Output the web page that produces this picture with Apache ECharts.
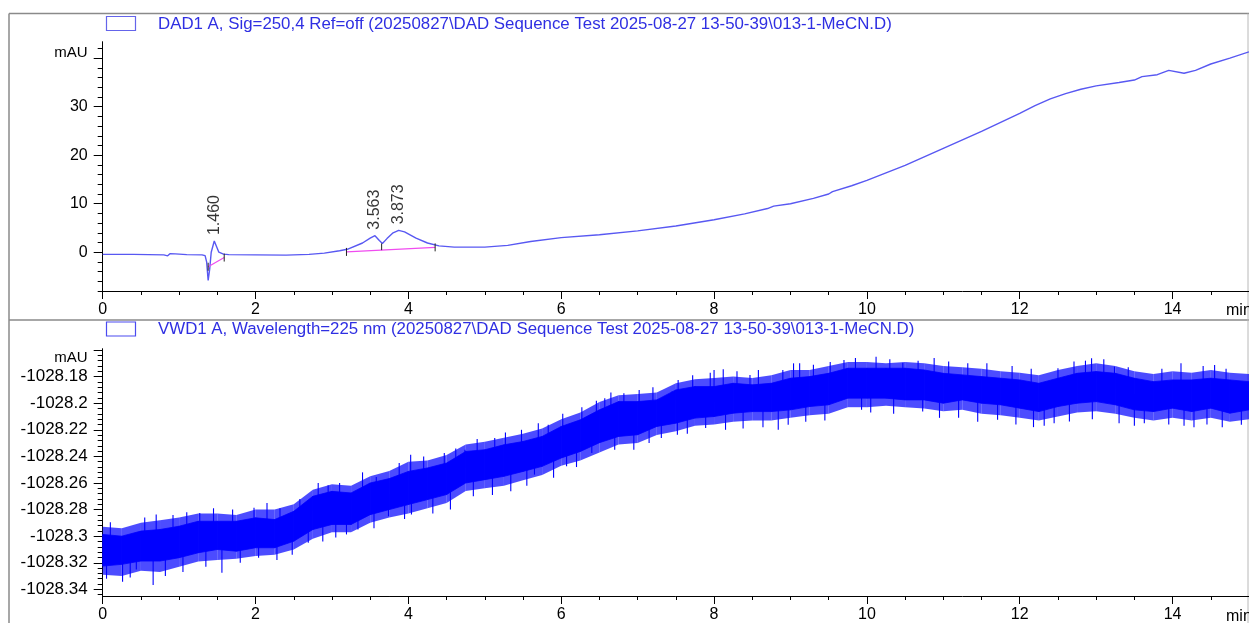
<!DOCTYPE html>
<html>
<head>
<meta charset="utf-8">
<script src="https://cdn.jsdelivr.net/npm/echarts@6/dist/echarts.min.js"></script>
<style>
  html, body { margin: 0; padding: 0; background: #ffffff; }
  #chart { width: 1249px; height: 623px; }
</style>
</head>
<body>
<div id="chart"></div>
<script>
// ---- Signal titles ----
const dadTitle = 'DAD1 A, Sig=250,4 Ref=off (20250827\\DAD Sequence Test 2025-08-27 13-50-39\\013-1-MeCN.D)';
const vwdTitle = 'VWD1 A, Wavelength=225 nm (20250827\\DAD Sequence Test 2025-08-27 13-50-39\\013-1-MeCN.D)';

// ---- Axis ticks ----
const timeTicks = [0, 2, 4, 6, 8, 10, 12, 14];
const dadTicks = [0, 10, 20, 30, 40];          // 40 carries the unit label
const vwdTicks = [-1028.34, -1028.32, -1028.3, -1028.28, -1028.26, -1028.24, -1028.22, -1028.2, -1028.18, -1028.16];
const unitLabel = 'mAU';
const timeUnit = 'min';

// ---- DAD1 A trace (min, mAU) ----
const dadTime = [0.00, 0.40, 0.80, 0.85, 0.88, 0.95, 1.10, 1.30, 1.34, 1.36, 1.38, 1.40, 1.42, 1.46, 1.48, 1.52, 1.58, 1.65,
  2.00, 2.40, 2.70, 2.90, 3.10, 3.20, 3.40, 3.50, 3.563, 3.62, 3.66, 3.72, 3.80, 3.873, 3.95, 4.10, 4.25, 4.40, 4.60,
  5.00, 5.30, 5.60, 6.00, 6.50, 7.00, 7.50, 8.00, 8.40, 8.70, 8.78, 9.00, 9.30, 9.50, 9.55, 9.80, 10.0, 10.5, 11.0,
  11.5, 12.0, 12.2, 12.4, 12.6, 12.8, 13.0, 13.3, 13.5, 13.6, 13.8, 13.95, 14.15, 14.3, 14.5, 14.75, 15.0];
const dadSignal = [-0.45, -0.45, -0.55, -0.75, -0.3, -0.35, -0.5, -0.55, -0.7, -2.0, -5.8, -3.5, 0.0, 2.3, 2.0, 0.0, -0.4, -0.5,
  -0.55, -0.6, -0.45, -0.2, 0.3, 0.6, 1.9, 2.9, 3.4, 2.4, 1.8, 2.8, 4.0, 4.5, 4.2, 2.9, 1.9, 1.3, 1.05,
  1.05, 1.4, 2.2, 3.0, 3.6, 4.4, 5.4, 6.7, 7.9, 9.0, 9.5, 10.0, 11.1, 12.0, 12.5, 13.7, 14.8, 17.9, 21.4,
  24.9, 28.6, 30.2, 31.6, 32.7, 33.6, 34.3, 35.0, 35.5, 36.2, 36.6, 37.5, 36.9, 37.5, 38.8, 40.0, 41.3];

// ---- Integration events (retention time, apex height) ----
const peakTimes = [1.460, 3.563, 3.873];
const peakHeights = [2.3, 3.4, 4.5];
const baselineStart = [1.38, 3.19];
const baselineStartValue = [-3.0, 0.06];
const baselineEnd = [1.59, 4.35];
const baselineEndValue = [-1.1, 1.0];
const dropTime = [3.65];
const dropTop = [1.8];
const dropBottom = [0.43];

// ---- VWD1 A noise envelope (min, mAU) ----
const vwdTime = [0, 0.25, 0.5, 0.75, 1, 1.25, 1.5, 1.75, 2, 2.25, 2.5, 2.75, 3, 3.25, 3.5, 3.75, 4, 4.25, 4.5, 4.75,
  5, 5.25, 5.5, 5.75, 6, 6.25, 6.5, 6.75, 7, 7.25, 7.5, 7.75, 8, 8.25, 8.5, 8.75, 9, 9.25, 9.5, 9.75,
  10, 10.25, 10.5, 10.75, 11, 11.25, 11.5, 11.75, 12, 12.25, 12.5, 12.75, 13, 13.25, 13.5, 13.75, 14, 14.25, 14.5, 14.75, 15];
// dense core of the trace
const vwdUpper = [-1028.2987, -1028.3000, -1028.2962, -1028.2950, -1028.2925, -1028.2888, -1028.2888, -1028.2888, -1028.2862, -1028.2875,
  -1028.2813, -1028.2700, -1028.2663, -1028.2675, -1028.2600, -1028.2567, -1028.2513, -1028.2487, -1028.2450, -1028.2363,
  -1028.2350, -1028.2313, -1028.2288, -1028.2250, -1028.2175, -1028.2125, -1028.2050, -1028.1988, -1028.1988, -1028.1975,
  -1028.1900, -1028.1875, -1028.1875, -1028.1850, -1028.1862, -1028.1850, -1028.1812, -1028.1800, -1028.1775, -1028.1737,
  -1028.1737, -1028.1737, -1028.1737, -1028.1750, -1028.1775, -1028.1787, -1028.1800, -1028.1812, -1028.1825, -1028.1850,
  -1028.1812, -1028.1775, -1028.1762, -1028.1775, -1028.1812, -1028.1838, -1028.1825, -1028.1825, -1028.1812, -1028.1825, -1028.1838];
const vwdLower = [-1028.3225, -1028.3212, -1028.3187, -1028.3187, -1028.3162, -1028.3125, -1028.3100, -1028.3113, -1028.3087, -1028.3087,
  -1028.3038, -1028.2950, -1028.2912, -1028.2912, -1028.2838, -1028.2800, -1028.2762, -1028.2725, -1028.2687, -1028.2600,
  -1028.2575, -1028.2550, -1028.2513, -1028.2475, -1028.2412, -1028.2363, -1028.2297, -1028.2250, -1028.2237, -1028.2175,
  -1028.2150, -1028.2112, -1028.2100, -1028.2075, -1028.2063, -1028.2063, -1028.2050, -1028.2025, -1028.2012, -1028.1962,
  -1028.1962, -1028.1962, -1028.1975, -1028.1975, -1028.2000, -1028.1975, -1028.2000, -1028.2012, -1028.2037, -1028.2063,
  -1028.2025, -1028.2000, -1028.1988, -1028.2012, -1028.2050, -1028.2063, -1028.2037, -1028.2063, -1028.2037, -1028.2075, -1028.2050];
// sparse fringe reached by most noise excursions
const vwdFringeHigh = [-1028.2930, -1028.2940, -1028.2900, -1028.2880, -1028.2860, -1028.2830, -1028.2830, -1028.2840, -1028.2800, -1028.2800,
  -1028.2760, -1028.2650, -1028.2610, -1028.2620, -1028.2550, -1028.2510, -1028.2440, -1028.2430, -1028.2390, -1028.2310,
  -1028.2290, -1028.2260, -1028.2230, -1028.2190, -1028.2120, -1028.2070, -1028.1990, -1028.1940, -1028.1930, -1028.1920,
  -1028.1850, -1028.1820, -1028.1810, -1028.1800, -1028.1810, -1028.1790, -1028.1750, -1028.1750, -1028.1720, -1028.1690,
  -1028.1690, -1028.1700, -1028.1690, -1028.1700, -1028.1720, -1028.1730, -1028.1740, -1028.1760, -1028.1770, -1028.1790,
  -1028.1750, -1028.1720, -1028.1700, -1028.1720, -1028.1760, -1028.1780, -1028.1760, -1028.1770, -1028.1750, -1028.1770, -1028.1780];
const vwdFringeLow = [-1028.3290, -1028.3300, -1028.3260, -1028.3270, -1028.3230, -1028.3190, -1028.3180, -1028.3170, -1028.3150, -1028.3140,
  -1028.3100, -1028.3020, -1028.2970, -1028.2970, -1028.2900, -1028.2860, -1028.2830, -1028.2790, -1028.2750, -1028.2660,
  -1028.2640, -1028.2620, -1028.2580, -1028.2540, -1028.2470, -1028.2430, -1028.2370, -1028.2310, -1028.2300, -1028.2240,
  -1028.2210, -1028.2170, -1028.2160, -1028.2140, -1028.2130, -1028.2130, -1028.2110, -1028.2090, -1028.2080, -1028.2030,
  -1028.2030, -1028.2020, -1028.2030, -1028.2040, -1028.2060, -1028.2050, -1028.2080, -1028.2090, -1028.2110, -1028.2130,
  -1028.2100, -1028.2070, -1028.2060, -1028.2080, -1028.2110, -1028.2130, -1028.2110, -1028.2130, -1028.2110, -1028.2140, -1028.2120];
// individual noise excursions: [time, tip value]
const vwdSpikes = [[0.26, -1028.3342], [0.44, -1028.325], [0.66, -1028.3367], [0.70, -1028.2837], [1.27, -1028.2825], [1.56, -1028.3275],
  [1.98, -1028.2787], [2.04, -1028.3162], [2.15, -1028.275], [2.69, -1028.305], [2.95, -1028.2617], [3.10, -1028.26], [3.19, -1028.2987],
  [3.34, -1028.295], [3.58, -1028.2555], [3.74, -1028.285], [4.03, -1028.2387], [4.04, -1028.2837], [4.32, -1028.283], [4.47, -1028.2375],
  [4.74, -1028.235], [5.13, -1028.2262], [5.34, -1028.2663], [5.65, -1028.2537], [5.70, -1028.215], [5.83, -1028.2162], [6.07, -1028.2475],
  [6.40, -1028.2375], [6.46, -1028.1982], [6.57, -1028.1962], [6.70, -1028.235], [6.82, -1028.1925], [7.31, -1028.2262], [7.45, -1028.1912],
  [7.52, -1028.2237], [7.53, -1028.1825], [7.89, -1028.2187], [8.00, -1028.175], [8.12, -1028.1745], [8.47, -1028.1787], [8.64, -1028.218],
  [8.84, -1028.22], [8.97, -1028.2162], [9.04, -1028.17], [9.12, -1028.17], [9.70, -1028.1675], [9.93, -1028.205], [10.47, -1028.1695],
  [10.67, -1028.168], [10.73, -1028.2063], [11.07, -1028.1687], [11.57, -1028.17], [11.71, -1028.2125], [12.32, -1028.217], [12.50, -1028.1737],
  [12.65, -1028.2137], [12.71, -1028.1687], [12.94, -1028.1662], [13.24, -1028.1725], [13.63, -1028.215], [14.11, -1028.17], [14.28, -1028.218],
  [14.55, -1028.1712], [14.90, -1028.2162],
  [0.10, -1028.2895], [0.55, -1028.2860], [0.92, -1028.2840], [1.10, -1028.2820], [1.45, -1028.2790], [1.70, -1028.2800], [2.32, -1028.2790],
  [2.58, -1028.2720], [2.82, -1028.2600], [3.40, -1028.2520], [3.88, -1028.2450], [4.20, -1028.2400], [4.62, -1028.2340], [4.90, -1028.2270],
  [5.27, -1028.2220], [5.48, -1028.2200], [6.02, -1028.2080], [6.27, -1028.2030], [6.65, -1028.1920], [7.02, -1028.1900], [7.20, -1028.1880],
  [7.72, -1028.1790], [7.95, -1028.1770], [8.30, -1028.1760], [8.58, -1028.1750], [8.90, -1028.1750], [9.30, -1028.1710], [9.52, -1028.1690],
  [9.85, -1028.1660], [10.12, -1028.1650], [10.30, -1028.1670], [10.88, -1028.1660], [11.32, -1028.1700], [11.90, -1028.1720], [12.15, -1028.1740],
  [12.86, -1028.1680], [13.10, -1028.1670], [13.42, -1028.1730], [13.86, -1028.1740], [14.40, -1028.1720], [14.70, -1028.1740],
  [0.05, -1028.3320], [0.36, -1028.3310], [0.82, -1028.3300], [1.05, -1028.3270], [1.35, -1028.3230], [1.80, -1028.3200], [2.28, -1028.3180],
  [2.48, -1028.3140], [2.88, -1028.3040], [3.05, -1028.3010], [3.55, -1028.2940], [3.95, -1028.2870], [4.55, -1028.2800], [4.85, -1028.2700],
  [5.10, -1028.2690], [5.55, -1028.2620], [5.90, -1028.2560], [6.20, -1028.2480], [6.95, -1028.2350], [7.15, -1028.2300], [7.65, -1028.2230],
  [8.15, -1028.2200], [8.38, -1028.2190], [9.20, -1028.2140], [9.45, -1028.2130], [10.05, -1028.2070], [10.35, -1028.2080], [10.95, -1028.2110],
  [11.20, -1028.2110], [11.45, -1028.2140], [11.95, -1028.2160], [12.18, -1028.2180], [12.45, -1028.2150], [12.95, -1028.2120], [13.30, -1028.2150],
  [13.50, -1028.2170], [13.95, -1028.2160], [14.15, -1028.2170], [14.45, -1028.2160], [14.65, -1028.2180]];

// ---- Styling ----
const FONT = '"Liberation Sans", Arial, sans-serif';
const DAD_COLOR = '#5858f2';
const VWD_COLOR = '#0000ff';
const FRINGE_COLOR = 'rgba(0, 0, 255, 0.7)';
const TITLE_COLOR = '#2f2fe2';
const BASE_COLOR = '#f04cf0';
const FRAME_COLOR = '#8a8a8a';

const TIME_MIN = 0, TIME_MAX = 15;
const DAD_MIN = -8, DAD_MAX = 43.4;
const VWD_MIN = -1028.345, VWD_MAX = -1028.159;

const timeMinor = [];
for (let t = 0.5; t < TIME_MAX; t += 0.5) if (Math.abs(t / 2 - Math.round(t / 2)) > 1e-9) timeMinor.push(t);
const dadMinor = [];
for (let v = -8; v <= 42; v += 2) if (v % 10 !== 0) dadMinor.push(v);
const vwdMinor = [];
for (let i = 0; i <= 46; i++) { const v = -1028.344 + i * 0.004; if (i % 5 !== 1) vwdMinor.push(+v.toFixed(3)); }

const grids = [
  { left: 102.7, top: 41.7, width: 1146.8, height: 249.3 },
  { left: 102.7, top: 348.7, width: 1146.8, height: 248 }
];

const axisLineStyle = { color: '#000', width: 1 };

function mainX(gridIndex) {
  return {
    type: 'value', gridIndex, min: TIME_MIN, max: TIME_MAX, position: 'bottom',
    axisLine: { show: true, onZero: false, lineStyle: axisLineStyle },
    axisTick: { show: true, inside: false, length: 8, customValues: timeTicks, lineStyle: axisLineStyle },
    axisLabel: { show: true, margin: 11, customValues: timeTicks, color: '#000', fontSize: 16, fontFamily: FONT },
    splitLine: { show: false }
  };
}
function minorX(gridIndex) {
  return {
    type: 'value', gridIndex, min: TIME_MIN, max: TIME_MAX, position: 'bottom',
    axisLine: { show: false, onZero: false },
    axisTick: { show: true, length: 4, customValues: timeMinor, lineStyle: axisLineStyle },
    axisLabel: { show: false }, splitLine: { show: false }
  };
}
// unitPadding nudges the unit label off its tick
function mainY(gridIndex, min, max, ticks, unitTick, fontSize, unitPadding) {
  return {
    type: 'value', gridIndex, min, max, position: 'left',
    axisLine: { show: true, onZero: false, lineStyle: axisLineStyle },
    axisTick: { show: true, length: 9, customValues: ticks, lineStyle: axisLineStyle },
    axisLabel: {
      show: true, margin: 15, customValues: ticks, color: '#000', fontSize, fontFamily: FONT,
      formatter: v => Math.abs(v - unitTick) < 1e-6 ? '{u|' + unitLabel + '}' : String(+(+v).toFixed(2)),
      rich: { u: { fontSize: 15, fontFamily: FONT, color: '#000', padding: unitPadding } }
    },
    splitLine: { show: false }
  };
}
function minorY(gridIndex, min, max, ticks) {
  return {
    type: 'value', gridIndex, min, max, position: 'left',
    axisLine: { show: false, onZero: false },
    axisTick: { show: true, length: 5, customValues: ticks, lineStyle: axisLineStyle },
    axisLabel: { show: false }, splitLine: { show: false }
  };
}

const zip = (a, b) => a.map((v, i) => [v, b[i]]);

// middle of the noise band at the nearest envelope sample
function bandMid(t) {
  let best = 0;
  for (let i = 1; i < vwdTime.length; i++) if (Math.abs(vwdTime[i] - t) < Math.abs(vwdTime[best] - t)) best = i;
  return (vwdUpper[best] + vwdLower[best]) / 2;
}

// one row per envelope segment: [t0, high0, low0, t1, high1, low1]
function bandRows(high, low) {
  return vwdTime.slice(0, -1).map((t, i) => [t, high[i], low[i], vwdTime[i + 1], high[i + 1], low[i + 1]]);
}
function bandRenderer(fill, edge) {
  return (params, api) => {
    const p = [
      api.coord([api.value(0), api.value(1)]),
      api.coord([api.value(3), api.value(4)]),
      api.coord([api.value(3), api.value(5)]),
      api.coord([api.value(0), api.value(2)])
    ];
    return { type: 'polygon', shape: { points: p }, style: { fill, stroke: edge, lineWidth: edge ? 0.8 : 0 } };
  };
}

const baselineRows = baselineStart.map((s, i) => [s, baselineStartValue[i], baselineEnd[i], baselineEndValue[i]]);
const dropRows = dropTime.map((t, i) => [t, dropTop[i], dropBottom[i]]);

const option = {
  animation: false,
  backgroundColor: '#ffffff',
  grid: grids,
  xAxis: [mainX(0), minorX(0), mainX(1), minorX(1)],
  yAxis: [
    mainY(0, DAD_MIN, DAD_MAX, dadTicks, 40, 16, [0, 0, 11, 0]), minorY(0, DAD_MIN, DAD_MAX, dadMinor),
    mainY(1, VWD_MIN, VWD_MAX, vwdTicks, -1028.16, 17, [16, 0, 0, 0]), minorY(1, VWD_MIN, VWD_MAX, vwdMinor)
  ],
  series: [
    {
      name: 'DAD1 A', type: 'line', xAxisIndex: 0, yAxisIndex: 0,
      data: zip(dadTime, dadSignal), showSymbol: false, symbol: 'none', smooth: false,
      lineStyle: { color: DAD_COLOR, width: 1.4 }, z: 3
    },
    {
      name: 'baseline', type: 'custom', xAxisIndex: 0, yAxisIndex: 0,
      data: baselineRows, z: 4,
      renderItem: (params, api) => {
        const a = api.coord([api.value(0), api.value(1)]);
        const b = api.coord([api.value(2), api.value(3)]);
        return {
          type: 'group', children: [
            { type: 'line', shape: { x1: a[0], y1: a[1], x2: b[0], y2: b[1] }, style: { stroke: BASE_COLOR, lineWidth: 1.2 } },
            { type: 'line', shape: { x1: a[0], y1: a[1] - 4, x2: a[0], y2: a[1] + 4 }, style: { stroke: '#222', lineWidth: 1 } },
            { type: 'line', shape: { x1: b[0], y1: b[1] - 4, x2: b[0], y2: b[1] + 4 }, style: { stroke: '#222', lineWidth: 1 } }
          ]
        };
      }
    },
    {
      name: 'drop', type: 'custom', xAxisIndex: 0, yAxisIndex: 0,
      data: dropRows, z: 4,
      renderItem: (params, api) => {
        const a = api.coord([api.value(0), api.value(1)]);
        const b = api.coord([api.value(0), api.value(2)]);
        return { type: 'line', shape: { x1: a[0], y1: a[1], x2: b[0], y2: b[1] }, style: { stroke: '#222', lineWidth: 1 } };
      }
    },
    {
      name: 'peaks', type: 'scatter', xAxisIndex: 0, yAxisIndex: 0,
      data: zip(peakTimes, peakHeights), symbolSize: 0, z: 5,
      label: {
        show: true, position: 'top', distance: 6, rotate: 90,
        align: 'left', verticalAlign: 'middle',
        formatter: p => p.value[0].toFixed(3),
        color: '#000', fontSize: 16, fontFamily: FONT
      }
    },
    {
      name: 'VWD1 A fringe', type: 'custom', xAxisIndex: 2, yAxisIndex: 2,
      data: bandRows(vwdFringeHigh, vwdFringeLow), z: 2,
      renderItem: bandRenderer(FRINGE_COLOR, null)
    },
    {
      name: 'VWD1 A', type: 'custom', xAxisIndex: 2, yAxisIndex: 2,
      data: bandRows(vwdUpper, vwdLower), z: 3,
      renderItem: bandRenderer(VWD_COLOR, VWD_COLOR)
    },
    {
      name: 'VWD1 A spikes', type: 'custom', xAxisIndex: 2, yAxisIndex: 2,
      data: vwdSpikes, z: 4,
      renderItem: (params, api) => {
        const t = api.value(0);
        const tip = api.coord([t, api.value(1)]);
        const root = api.coord([t, bandMid(t)]);
        return { type: 'line', shape: { x1: tip[0], y1: tip[1], x2: root[0], y2: root[1] }, style: { stroke: VWD_COLOR, lineWidth: 1.1 } };
      }
    }
  ],
  graphic: [
    // page frame and panel divider
    { type: 'line', shape: { x1: 9, y1: 13.5, x2: 1249, y2: 13.5 }, style: { stroke: FRAME_COLOR, lineWidth: 1.5 }, silent: true },
    { type: 'line', shape: { x1: 9, y1: 13.5, x2: 9, y2: 623 }, style: { stroke: FRAME_COLOR, lineWidth: 1.5 }, silent: true },
    { type: 'line', shape: { x1: 9, y1: 320, x2: 1249, y2: 320 }, style: { stroke: FRAME_COLOR, lineWidth: 1.5 }, silent: true },
    { type: 'line', shape: { x1: 1248, y1: 13.5, x2: 1248, y2: 623 }, style: { stroke: '#b8b8b8', lineWidth: 1 }, silent: true },
    // signal headers
    { type: 'rect', shape: { x: 106.5, y: 16.5, width: 29, height: 14 }, style: { fill: '#fff', stroke: '#6464ea', lineWidth: 1.2 } },
    { type: 'text', x: 158, y: 24, style: { text: dadTitle, fill: TITLE_COLOR, fontSize: 16.85, fontFamily: FONT, verticalAlign: 'middle' } },
    { type: 'rect', shape: { x: 106.5, y: 322, width: 29, height: 14 }, style: { fill: '#fff', stroke: '#4a4af0', lineWidth: 1.2 } },
    { type: 'text', x: 158, y: 329.5, style: { text: vwdTitle, fill: TITLE_COLOR, fontSize: 16.85, fontFamily: FONT, verticalAlign: 'middle' } },
    // time unit at the axis ends
    { type: 'text', x: 1226, y: 311, style: { text: timeUnit, fill: '#000', fontSize: 16, fontFamily: FONT, verticalAlign: 'middle' } },
    { type: 'text', x: 1226, y: 617, style: { text: timeUnit, fill: '#000', fontSize: 16, fontFamily: FONT, verticalAlign: 'middle' } }
  ]
};

const chart = echarts.init(document.getElementById('chart'), null, { renderer: 'canvas' });
chart.setOption(option);
</script>
</body>
</html>
